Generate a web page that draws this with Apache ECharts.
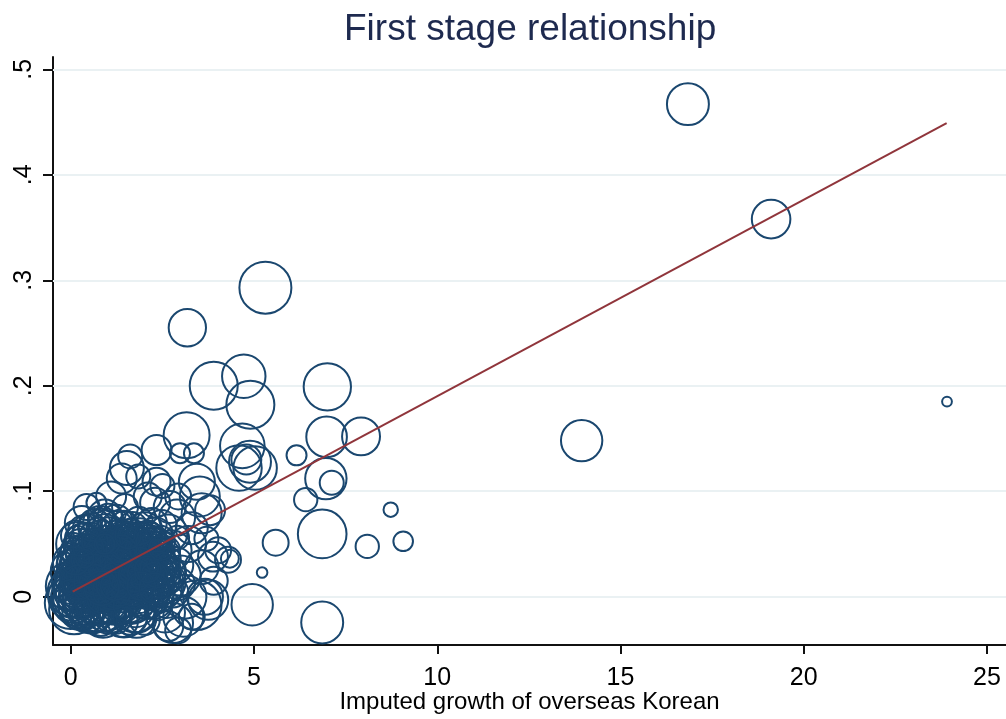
<!DOCTYPE html>
<html>
<head>
<meta charset="utf-8">
<script src="https://cdn.jsdelivr.net/npm/echarts@6/dist/echarts.min.js"></script>
<style>
  html, body { margin: 0; padding: 0; background: #ffffff; overflow: hidden; }
  #chart { width: 1006px; height: 719px; }
</style>
</head>
<body>
<div id="chart"></div>
<script>
// Region-level observations: imputed growth (x), first-stage outcome (y), weight (w)
const clusterX = [
  0.02,0.12,0.06,0.22,0.18,0.31,0.28,0.40,0.37,0.47,
  0.52,0.58,0.55,0.63,0.68,0.72,0.76,0.81,0.86,0.88,
  0.93,0.98,1.02,1.07,1.11,1.16,1.20,1.24,1.29,1.33,
  1.38,1.42,1.47,1.51,1.56,1.60,1.65,1.69,1.74,1.78,
  1.83,1.87,1.92,1.96,2.01,2.05,2.10,2.14,2.19,2.23,
  2.28,2.32,2.37,2.41,2.46,2.50,2.55,2.60,2.64,2.70,
  0.05,0.10,0.16,0.24,0.33,0.36,0.44,0.50,0.57,0.61,
  0.66,0.71,0.78,0.83,0.90,0.95,1.00,1.04,1.09,1.14,
  1.18,1.22,1.27,1.31,1.36,1.40,1.45,1.49,1.54,1.58,
  1.63,1.67,1.72,1.76,1.81,1.85,1.90,1.94,1.99,2.03,
  2.08,2.12,2.17,2.21,2.26,2.30,2.35,2.39,2.44,2.48,
  2.53,2.57,2.62,2.66,2.71,2.75,2.80,2.85,2.90,2.95,
  0.03,0.08,0.14,0.20,0.26,0.34,0.42,0.48,0.54,0.60,
  0.67,0.74,0.79,0.84,0.92,0.97,1.03,1.08,1.13,1.19,
  1.26,1.32,1.37,1.43,1.48,1.53,1.59,1.64,1.70,1.77,
  1.82,1.88,1.93,1.98,2.04,2.09,2.15,2.20,2.27,2.33,
  1.39,1.84,0.43,0.30,0.93,1.48,2.30,2.93,3.57,4.02,
  4.34,3.57,3.30,2.66,2.93,0.80,1.75,2.57,3.07,3.43,
  3.75,3.52,3.44,2.34,1.53,1.62,2.34,2.98,3.36,3.16,
  3.80,3.88,4.29,3.66,2.79,0.70,0.06,3.20,3.00,3.30,
  2.90,3.10,3.90,2.70,2.10,1.10,0.20,0.00,3.70,2.50,
  0.00,0.04,0.09,0.13,0.19,0.23,0.29,0.35,0.39,0.45,
  0.49,0.53,0.59,0.64,0.69,0.73,0.77,0.82,0.87,0.91,
  0.96,1.01,1.05,1.10,1.15,1.21,1.25,1.30,1.34,1.39,
  1.44,1.50,1.55,1.61,1.66,1.71,1.75,1.80,1.86,1.91,
  1.97,2.02,2.07,2.13,2.18,2.24,2.29,2.34,2.40,2.45,
  0.11,0.17,0.27,0.38,0.46,0.56,0.65,0.75,0.85,0.94,
  0.15,0.32,0.51,0.70,0.88,1.06,1.23,1.41,1.57,1.73,
  0.21,0.41,0.62,0.80,0.99,1.17,1.35,1.52,1.68,1.89,
  2.04,2.22,2.38,2.58,2.76,0.58,0.88,1.12,1.45,1.79,
  0.26,0.44,0.62,0.82,1.02,1.22,1.42,1.62,1.82,2.02,
  0.30,0.60,0.90,1.20,1.50,1.80,2.10,0.45,0.75,1.05,
  1.35,1.65,1.95,2.25,0.20,0.50,0.80,1.10,1.40,1.70,
  0.07,0.25,0.43,0.61,0.79,0.97,1.15,1.33,1.51,1.69,
  1.87,2.05,2.23,2.41,0.16,0.34,0.52,0.70,0.88,1.06,
  1.24,1.42,1.60,1.78,1.96,2.14,2.32,0.09,0.27,0.47,
  0.65,0.83,1.01,1.19,1.37,1.55,1.73,1.91,2.09,2.27,
  0.14,0.36,0.58,0.80,1.02,1.24,1.46,1.68,1.90,2.12,
  0.04,0.22,0.40,0.58,0.76,0.94,1.12,1.30,1.48,1.66,
  1.84,2.02,2.20,2.38,0.12,0.30,0.48,0.66,0.84,1.02,
  1.20,1.38,1.56,1.74,1.92,2.10,2.28,2.46,0.38,0.92
];
const clusterY = [
  0.004,0.010,0.018,0.002,0.026,0.012,0.034,0.006,0.022,0.040,
  0.014,0.002,0.030,0.046,0.020,0.008,0.036,0.016,0.000,0.050,
  0.026,0.012,0.040,0.004,0.022,0.056,0.032,0.014,0.044,0.002,
  0.024,0.060,0.036,0.010,0.048,0.020,0.064,0.030,0.004,0.042,
  0.018,0.054,0.028,0.008,0.046,0.022,0.060,0.034,0.012,0.050,
  0.026,0.004,0.040,0.018,0.056,0.030,0.008,0.044,0.022,0.036,
  0.030,-0.004,0.040,0.016,-0.006,0.046,0.028,-0.002,0.052,0.024,
  -0.008,0.040,0.024,0.058,0.008,-0.010,0.030,0.062,0.016,-0.006,
  0.044,0.026,0.066,-0.008,0.036,0.016,0.070,0.026,-0.004,0.040,
  0.012,0.050,0.022,-0.010,0.034,0.072,0.000,0.040,0.016,0.064,
  -0.006,0.048,0.026,0.070,-0.002,0.058,0.024,-0.010,0.038,0.068,
  0.014,0.052,-0.004,0.060,0.016,0.044,0.004,0.030,0.056,0.012,
  0.012,0.024,0.002,0.034,0.008,0.028,0.016,0.024,0.006,0.036,
  0.030,0.002,0.032,0.020,0.040,0.004,0.024,0.034,0.012,0.020,
  0.036,0.026,0.006,0.046,0.018,0.032,0.004,0.026,0.040,0.016,
  0.006,0.030,0.052,0.024,0.036,0.010,0.018,0.042,0.032,0.014,
  0.112,0.114,0.085,0.070,0.076,0.085,0.089,0.095,0.079,0.044,
  0.036,0.028,-0.019,-0.028,-0.032,-0.008,-0.013,-0.015,-0.019,-0.008,
  -0.003,0.095,0.109,0.109,0.122,0.133,0.139,0.136,0.136,0.153,
  0.082,0.038,0.035,0.000,-0.025,0.089,0.032,0.050,0.020,0.065,
  0.075,0.000,0.015,0.085,0.095,0.095,0.050,0.010,0.055,0.105,
  -0.006,0.000,-0.012,0.006,-0.002,0.020,-0.010,0.004,0.030,-0.004,
  0.010,0.042,-0.012,0.012,0.050,0.028,-0.004,0.044,0.010,0.054,
  0.020,-0.004,0.048,0.030,0.008,0.052,-0.002,0.034,0.060,0.008,
  0.030,0.050,0.014,0.040,-0.004,0.056,0.026,0.010,0.046,0.020,
  0.034,0.002,0.028,0.012,0.056,0.020,0.046,0.030,0.008,0.024,
  0.044,0.056,0.048,0.058,0.064,0.060,0.068,0.064,0.070,0.066,
  0.022,0.018,0.018,0.022,0.026,0.026,0.020,0.022,0.028,0.032,
  0.008,0.040,0.000,0.036,0.042,0.000,0.050,0.006,0.016,0.036,
  0.014,0.004,0.052,0.028,0.024,-0.016,-0.018,-0.016,-0.016,-0.020,
  -0.014,-0.018,-0.020,-0.022,-0.018,-0.020,-0.024,-0.020,-0.016,-0.022,
  0.028,0.032,0.016,0.040,0.006,0.024,0.040,-0.006,0.010,0.014,
  0.028,0.014,0.040,0.036,0.016,0.026,0.052,0.030,0.040,0.046,
  0.016,0.044,0.010,0.018,0.046,0.016,0.034,0.018,0.038,0.006,
  0.012,0.050,0.024,0.012,0.030,0.036,0.034,0.006,0.030,0.040,
  0.004,0.032,0.012,0.052,0.026,0.002,0.040,0.050,-0.004,0.020,
  0.040,-0.002,0.010,0.060,0.016,0.024,0.036,0.044,0.030,0.020,
  0.058,0.062,0.066,0.070,0.074,0.072,0.068,0.066,0.062,0.058,
  -0.002,0.014,-0.008,0.014,0.020,0.028,0.006,0.012,0.050,-0.008,
  0.028,0.022,0.052,0.026,0.034,0.054,0.046,0.052,0.008,0.052,
  0.010,0.044,0.058,0.020,0.010,0.026,0.008,0.046,0.036,0.050
];
const clusterW = [
  144,110,81,132,56,100,42,169,72,36,
  121,90,64,30,144,81,49,110,182,25,
  90,132,56,100,72,36,121,64,81,144,
  100,42,72,110,56,132,30,90,64,121,
  49,81,110,72,56,100,42,81,121,64,
  90,49,72,110,36,64,90,49,81,30,
  64,121,30,90,156,49,110,81,42,156,
  100,72,36,56,90,144,169,49,30,110,
  100,20,64,81,156,42,36,90,121,25,
  72,110,42,100,144,49,90,30,132,72,
  64,110,36,56,100,81,144,42,100,56,
  121,25,72,90,42,100,56,81,36,64,
  100,132,72,110,56,144,90,49,132,81,
  25,56,121,42,100,64,36,144,90,156,
  42,100,56,132,30,49,81,156,36,100,
  132,36,90,49,121,56,81,42,30,72,
  56,36,42,72,72,42,56,42,100,42,
  20,72,42,56,42,182,121,100,100,156,
  100,100,81,49,72,36,56,25,25,132,
  56,56,42,81,100,25,100,81,100,64,
  81,121,49,64,49,56,121,156,36,36,
  169,144,156,121,182,90,132,110,64,144,
  156,81,132,169,56,100,144,72,121,49,
  182,121,72,156,132,56,169,110,49,144,
  121,64,169,90,132,49,156,100,72,144,
  110,144,81,156,56,121,72,100,132,81,
  49,36,72,42,56,30,64,36,49,42,
  25,36,20,30,42,25,36,20,30,25,
  16,25,36,16,25,42,20,30,16,36,
  20,30,25,36,49,100,121,90,144,100,
  81,72,56,64,81,64,56,72,90,56,
  9,12,6,9,12,6,9,12,6,9,
  12,9,16,12,6,16,9,12,6,16,
  42,56,49,64,36,56,42,64,49,56,
  64,42,56,49,72,36,64,42,56,49,
  56,42,72,49,64,36,56,30,81,36,
  30,49,36,42,30,36,42,30,36,42,
  56,64,49,72,56,64,49,56,42,49,
  90,72,110,81,100,72,90,121,64,81,
  100,72,56,81,49,64,56,42,72,36,
  49,56,42,64,49,42,56,36,20,25
];

const spreadX = [
  16.84,19.11,23.91,13.94,5.31,3.18,3.90,4.72,4.90,7.00,
  6.98,7.92,6.16,6.96,7.12,6.41,8.73,6.86,5.59,8.09,
  9.07,5.22,4.95,6.86,4.68,4.89,4.59,4.79,5.03
];
const spreadY = [
  0.467,0.358,0.185,0.148,0.293,0.255,0.200,0.209,0.182,0.199,
  0.1515,0.152,0.134,0.112,0.108,0.092,0.0825,0.0595,0.0512,0.0477,
  0.0525,0.023,-0.0076,-0.0244,0.143,0.128,0.122,0.130,0.122
];
const spreadW = [
  110,93,6,107,169,87,144,118,144,140,
  103,90,25,107,36,34,13,148,42,34,
  24,7,107,110,124,110,129,56,118
];

// Linear fit endpoints
const fitX = [0.05, 23.9];
const fitY = [0.0047, 0.449];

const xTicks = [0, 5, 10, 15, 20, 25];
const yTicks = [0, 0.1, 0.2, 0.3, 0.4, 0.5];
const yTickLabels = ['0', '.1', '.2', '.3', '.4', '.5'];

const titleText = 'First stage relationship';
const xTitle = 'Imputed growth of overseas Korean';

const navy = '#1a476f';
const maroon = '#90353b';
const font = '"Liberation Sans", Arial, sans-serif';

const pts = [];
clusterX.forEach((x, i) => pts.push([x, clusterY[i], clusterW[i]]));
spreadX.forEach((x, i) => pts.push([x, spreadY[i], spreadW[i]]));

const chart = echarts.init(document.getElementById('chart'), null, { renderer: 'canvas' });
chart.setOption({
  animation: false,
  backgroundColor: '#ffffff',
  title: {
    text: titleText,
    left: 339,
    top: 6,
    textStyle: { fontFamily: font, fontSize: 37, fontWeight: 'normal', color: '#1e2a4f' }
  },
  grid: { left: 53, right: 0, top: 57, bottom: 74, containLabel: false, outerBoundsMode: 'none' },
  xAxis: {
    type: 'value',
    min: -0.486,
    max: 25.52,
    name: xTitle,
    nameLocation: 'middle',
    nameGap: 45,
    nameMoveOverlap: false,
    nameTextStyle: { fontFamily: font, fontSize: 24, color: '#000' },
    axisLine: { show: true, onZero: false, lineStyle: { color: '#111', width: 2 } },
    axisTick: { show: true, length: 9, lineStyle: { color: '#111', width: 2 }, customValues: xTicks },
    axisLabel: { fontFamily: font, fontSize: 25, color: '#000', margin: 21, customValues: xTicks },
    splitLine: { show: false }
  },
  yAxis: {
    type: 'value',
    min: -0.0458,
    max: 0.5117,
    axisLine: { show: true, onZero: false, lineStyle: { color: '#111', width: 2 } },
    axisTick: { show: true, length: 10, lineStyle: { color: '#111', width: 2 }, customValues: yTicks },
    axisLabel: {
      fontFamily: font, fontSize: 25, color: '#000', margin: 16, rotate: 90,
      customValues: yTicks,
      formatter: v => {
        const k = yTicks.findIndex(t => Math.abs(t - v) < 1e-9);
        return k >= 0 ? yTickLabels[k] : '';
      }
    },
    splitLine: { show: false }
  },
  series: [
    {
      type: 'line',
      data: [],
      silent: true,
      z: 1,
      markLine: {
        silent: true,
        z: 1,
        symbol: 'none',
        label: { show: false },
        lineStyle: { color: '#eaf1f3', width: 2, type: 'solid' },
        data: yTicks.map(t => ({ yAxis: t }))
      }
    },
    {
      type: 'scatter',
      data: pts,
      z: 2,
      symbol: 'circle',
      symbolSize: d => 4 * Math.sqrt(d[2]),
      itemStyle: { color: 'rgba(0,0,0,0)', borderColor: navy, borderWidth: 2, opacity: 1 },
      emphasis: { disabled: true }
    },
    {
      type: 'line',
      data: fitX.map((x, i) => [x, fitY[i]]),
      z: 3,
      symbol: 'none',
      lineStyle: { color: maroon, width: 2 }
    }
  ]
});
</script>
</body>
</html>
